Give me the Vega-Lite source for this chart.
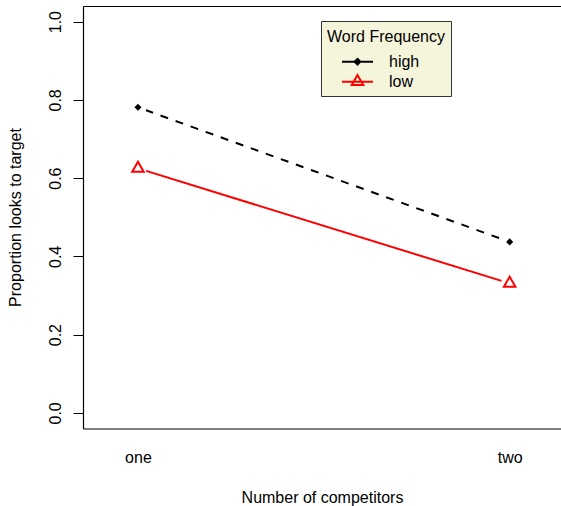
{
  "$schema": "https://vega.github.io/schema/vega-lite/v6.json",
  "width": 478,
  "height": 422.5,
  "autosize": {"type": "none"},
  "padding": {"left": 83, "top": 6, "right": 0, "bottom": 77.5},
  "background": "white",
  "config": {
    "view": {"stroke": null},
    "font": "Liberation Sans",
    "axis": {
      "labelFont": "Liberation Sans", "titleFont": "Liberation Sans",
      "labelFontSize": 16, "titleFontSize": 16,
      "labelColor": "black", "titleColor": "black", "titleFontWeight": "normal",
      "grid": false, "domainColor": "black", "tickColor": "black", "domainWidth": 1.2
    }
  },
  "data": {"values": [
    {"competitors": "one", "frequency": "high", "proportion": 0.781},
    {"competitors": "two", "frequency": "high", "proportion": 0.437},
    {"competitors": "one", "frequency": "low", "proportion": 0.625},
    {"competitors": "two", "frequency": "low", "proportion": 0.331}
  ]},
  "encoding": {
    "y": {
      "field": "proportion", "type": "quantitative",
      "scale": {"domain": [-0.04, 1.04], "nice": false, "zero": false},
      "axis": {
        "orient": "left", "values": [0, 0.2, 0.4, 0.6, 0.8, 1.0], "format": ".1f",
        "labelAngle": -90, "labelAlign": "center", "labelBaseline": "alphabetic",
        "tickSize": 10, "labelPadding": 13, "labelOverlap": false,
        "title": "Proportion looks to target", "titleAngle": -90,
        "titleX": -63, "titleY": 211, "titleAlign": "center", "titleBaseline": "alphabetic"
      }
    }
  },
  "layer": [
    {
      "transform": [{"filter": "datum.frequency === 'high'"}],
      "mark": {"type": "line", "strokeWidth": 2, "strokeDash": [8, 8], "strokeDashOffset": 8, "color": "black"},
      "encoding": {
        "x": {
          "field": "competitors", "type": "ordinal",
          "scale": {"type": "point", "domain": ["one", "two"], "padding": 0.143, "align": 0.517},
          "axis": {
            "orient": "bottom", "labelAngle": 0, "ticks": false, "tickSize": 0,
            "labelPadding": 33.5, "labelBaseline": "alphabetic",
            "title": "Number of competitors", "titleY": 73.5, "titleBaseline": "alphabetic"
          }
        }
      }
    },
    {
      "transform": [{"filter": "datum.frequency === 'low'"}],
      "mark": {"type": "line", "strokeWidth": 2},
      "encoding": {
        "x": {"field": "competitors", "type": "ordinal", "axis": null},
        "color": {
          "field": "frequency", "type": "nominal",
          "scale": {"domain": ["high", "low"], "range": ["black", "red"]},
          "legend": {
            "title": "Word Frequency", "orient": "none", "legendX": 238, "legendY": 15,
            "direction": "vertical",
            "fillColor": "#F5F5DC", "strokeColor": "#333333", "padding": 6,
            "titleFont": "Liberation Sans", "titleFontSize": 16, "titleFontWeight": "normal",
            "titleColor": "black", "titleAnchor": "middle", "titlePadding": 10.2, "titleLimit": 300,
            "labelFont": "Liberation Sans", "labelFontSize": 16, "labelColor": "black",
            "labelOffset": 23, "symbolSize": 225, "symbolOffset": -3, "rowPadding": 0,
            "encode": {
              "title": {"update": {"dy": {"value": 1.5}}},
              "symbols": {"update": {
                "shape": {"signal": "datum.value === 'high' ? 'M-2.07,0H2.07M0,-0.38L0.38,0L0,0.38L-0.38,0Z' : 'M-2.07,0H2.07M0,-0.885L0.767,0.443L-0.767,0.443Z'"},
                "fill": {"signal": "datum.value === 'high' ? 'black' : 'transparent'"},
                "stroke": {"signal": "datum.value === 'high' ? 'black' : 'red'"},
                "strokeWidth": {"value": 2},
                "strokeDash": {"value": [1, 0]},
                "opacity": {"value": 1}
              }}
            }
          }
        }
      }
    },
    {
      "mark": {"type": "circle", "size": 300, "color": "white", "opacity": 1},
      "encoding": {
        "x": {
          "field": "competitors", "type": "ordinal",
          "axis": {"orient": "top", "labels": false, "ticks": false, "title": null, "domain": true}
        }
      }
    },
    {
      "transform": [{"filter": "datum.frequency === 'high'"}],
      "mark": {"type": "point", "shape": "diamond", "filled": true, "size": 50, "color": "black", "opacity": 1},
      "encoding": {
        "x": {"field": "competitors", "type": "ordinal", "axis": null}
      }
    },
    {
      "transform": [{"filter": "datum.frequency === 'low'"}],
      "mark": {"type": "point", "shape": "M0,-1L0.866,0.5L-0.866,0.5Z", "filled": false, "size": 177, "color": "red", "strokeWidth": 2, "opacity": 1},
      "encoding": {
        "x": {"field": "competitors", "type": "ordinal", "axis": null}
      }
    }
  ]
}
